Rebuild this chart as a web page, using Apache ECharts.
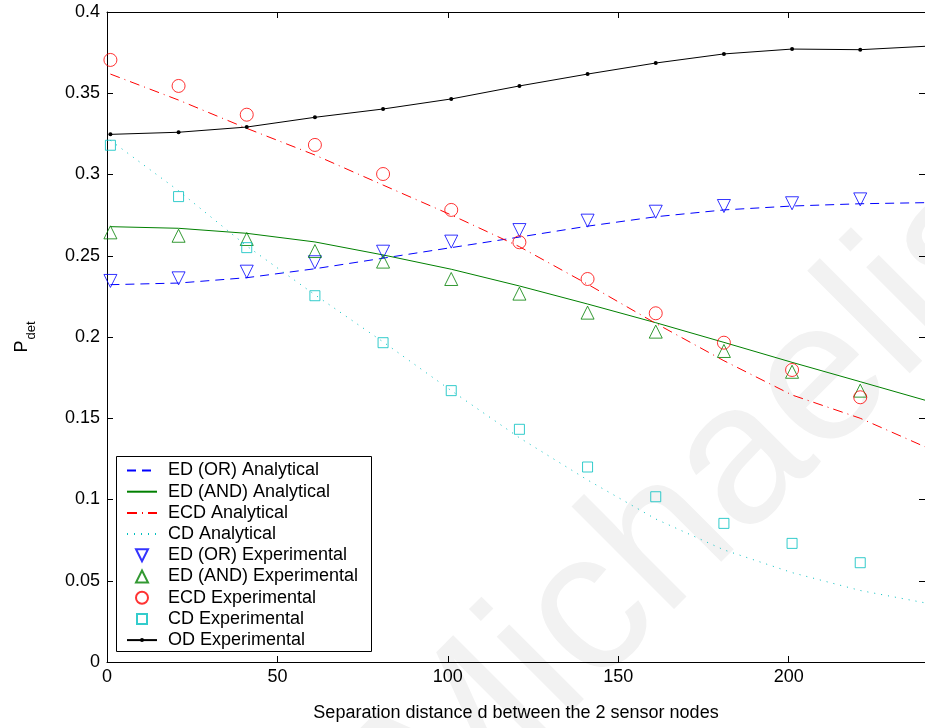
<!DOCTYPE html>
<html>
<head>
<meta charset="utf-8">
<script src="https://cdn.jsdelivr.net/npm/echarts@6/dist/echarts.min.js"></script>
<style>html,body{margin:0;padding:0;background:#fff}#c{width:925px;height:728px}</style>
</head>
<body>
<div id="c"></div>
<script>
// ---- data ----
const xExp = [1, 21, 41, 61, 81, 101, 121, 141, 161, 181, 201, 221];
const xAna = [1, 21, 41, 61, 81, 101, 121, 141, 161, 181, 201, 221, 241];
const xOD  = [1, 21, 41, 61, 81, 101, 121, 141, 161, 181, 201, 221, 241];

const edOrAna  = [0.2322, 0.2332, 0.2365, 0.2420, 0.2485, 0.2550, 0.2615, 0.2682, 0.2740, 0.2782, 0.2806, 0.2820, 0.2827];
const edAndAna = [0.2679, 0.2669, 0.2638, 0.2585, 0.2505, 0.2417, 0.2314, 0.2203, 0.2088, 0.1967, 0.1844, 0.1725, 0.1605];
const ecdAna   = [0.3618, 0.3458, 0.3284, 0.3120, 0.2935, 0.2751, 0.2556, 0.2325, 0.2084, 0.1854, 0.1643, 0.1500, 0.1315];
const cdAna    = [0.3210, 0.2900, 0.2560, 0.2260, 0.1970, 0.1670, 0.1380, 0.1120, 0.0880, 0.0690, 0.0550, 0.0440, 0.0360];

const edOrExp  = [0.2345, 0.2361, 0.2402, 0.2460, 0.2525, 0.2587, 0.2658, 0.2716, 0.2771, 0.2806, 0.2823, 0.2847];
const edAndExp = [0.2644, 0.2623, 0.2603, 0.2529, 0.2464, 0.2357, 0.2267, 0.2150, 0.2033, 0.1914, 0.1786, 0.1670];
const ecdExp   = [0.3705, 0.3545, 0.3368, 0.3182, 0.3003, 0.2782, 0.2583, 0.2357, 0.2146, 0.1965, 0.1797, 0.1629];
const cdExp    = [0.3180, 0.2864, 0.2550, 0.2254, 0.1965, 0.1670, 0.1432, 0.1200, 0.1017, 0.0853, 0.0730, 0.0611];
const odExp    = [0.3247, 0.3260, 0.3292, 0.3352, 0.3403, 0.3465, 0.3545, 0.3618, 0.3686, 0.3742, 0.3772, 0.3768, 0.3790];

const seriesNames = [
  'ED (OR) Analytical', 'ED (AND) Analytical', 'ECD Analytical', 'CD Analytical',
  'ED (OR) Experimental', 'ED (AND) Experimental', 'ECD Experimental', 'CD Experimental', 'OD Experimental'
];
const xTitle = 'Separation distance d between the 2 sensor nodes';
const watermark = 'Michaelis';

const pair = (xs, ys) => ys.map((v, i) => [xs[i], v]);
const FONT = 'Liberation Sans, Arial, Helvetica, sans-serif';
const FS = 18;
const DOWN_TRI = 'path://M0,0L12,0L6,12Z';

const chart = echarts.init(document.getElementById('c'), null, {renderer: 'canvas'});

function anaLine(name, xs, ys, color, dash) {
  return {
    name, type: 'line', data: pair(xs, ys), symbol: 'none', smooth: false,
    lineStyle: {color, width: 1, type: dash}, itemStyle: {color}, z: 3
  };
}
function expMarks(name, xs, ys, color, symbol, size, rot) {
  return {
    name, type: 'scatter', data: pair(xs, ys), symbol, symbolSize: size, symbolRotate: rot || 0,
    itemStyle: {color: 'rgba(255,255,255,0)', borderColor: color, borderWidth: 1}, z: 4
  };
}
const legText = (pad) => ({fontSize: FS, color: '#000', fontFamily: FONT, lineHeight: 18, padding: [0, 0, 0, pad]});
const ROW = 21.2;
const LEG_TOP = 461.5;

const option = {
  animation: false,
  backgroundColor: '#fff',
  textStyle: {fontFamily: FONT},
  graphic: [{
    type: 'text', x: 700, y: 505, z: -1, silent: true,
    rotation: Math.PI / 4,
    style: {text: watermark, fontSize: 200, fontFamily: FONT, fill: '#f2f2f2', align: 'center', verticalAlign: 'middle'}
  }, {
    type: 'rect', z: 50, silent: true,
    shape: {x: 116.5, y: 456.5, width: 255, height: 195},
    style: {fill: '#fff', stroke: '#000', lineWidth: 1}
  }],
  grid: {left: 107, top: 12, width: 821, height: 650, containLabel: false},
  legend: [{
    orient: 'vertical', left: 126, top: LEG_TOP, padding: 0, z: 60,
    itemWidth: 30, itemHeight: 14, itemGap: ROW - 18,
    textStyle: legText(6),
    data: seriesNames.slice(0, 4).map(n => ({name: n, itemStyle: {opacity: 0}}))
  }, {
    orient: 'vertical', left: 135, top: LEG_TOP + 4 * ROW, padding: 0, z: 60,
    itemWidth: 12, itemHeight: 12, itemGap: ROW - 18,
    textStyle: legText(15),
    data: [{name: seriesNames[4], icon: DOWN_TRI}, seriesNames[5], seriesNames[6]]
  }, {
    orient: 'vertical', left: 136, top: LEG_TOP + 7 * ROW, padding: 0, z: 60,
    itemWidth: 10, itemHeight: 10, itemGap: ROW - 18,
    textStyle: legText(16),
    data: [seriesNames[7]]
  }, {
    orient: 'vertical', left: 126, top: LEG_TOP + 8 * ROW, padding: 0, z: 60,
    itemWidth: 30, itemHeight: 5, itemGap: ROW - 18,
    textStyle: legText(6),
    data: [seriesNames[8]]
  }],
  xAxis: [{
    type: 'value', min: 0, max: 240, interval: 50, position: 'bottom',
    name: xTitle, nameLocation: 'middle', nameGap: 42,
    nameTextStyle: {fontSize: FS, color: '#000', fontFamily: FONT},
    axisLine: {show: true, onZero: false, lineStyle: {color: '#000', width: 1}},
    axisTick: {show: true, inside: true, length: 6, lineStyle: {color: '#000'}},
    axisLabel: {fontSize: FS, color: '#000', margin: 6, showMaxLabel: false, fontFamily: FONT},
    splitLine: {show: false}, z: 2
  }, {
    type: 'value', min: 0, max: 240, interval: 50, position: 'top',
    axisLine: {show: true, onZero: false, lineStyle: {color: '#000', width: 1}},
    axisTick: {show: true, inside: true, length: 6, lineStyle: {color: '#000'}},
    axisLabel: {show: false}, splitLine: {show: false}, z: 2
  }],
  yAxis: [{
    type: 'value', min: 0, max: 0.4, interval: 0.05, position: 'left',
    name: 'P{d|det}', nameLocation: 'middle', nameGap: 69, nameRotate: 90,
    nameTextStyle: {fontSize: FS, color: '#000', fontFamily: FONT,
      rich: {d: {fontSize: 13, fontFamily: FONT, color: '#000', padding: [18, 0, 0, 1]}}},
    axisLine: {show: true, onZero: false, lineStyle: {color: '#000', width: 1}},
    axisTick: {show: true, inside: true, length: 6, lineStyle: {color: '#000'}},
    axisLabel: {fontSize: FS, color: '#000', margin: 7, fontFamily: FONT},
    splitLine: {show: false}, z: 2
  }, {
    type: 'value', min: 0, max: 0.4, interval: 0.05, position: 'right',
    axisLine: {show: true, onZero: false, lineStyle: {color: '#000', width: 1}},
    axisTick: {show: true, inside: true, length: 6, lineStyle: {color: '#000'}},
    axisLabel: {show: false}, splitLine: {show: false}, z: 2
  }],
  series: [
    anaLine(seriesNames[0], xAna, edOrAna, '#0000ff', [9, 6]),
    anaLine(seriesNames[1], xAna, edAndAna, '#008000', 'solid'),
    anaLine(seriesNames[2], xAna, ecdAna, '#ff0000', [10, 5, 1, 5]),
    anaLine(seriesNames[3], xAna, cdAna, '#00bfbf', [1, 6]),
    expMarks(seriesNames[4], xExp, edOrExp, '#0000ff', 'triangle', 13, 180),
    expMarks(seriesNames[5], xExp, edAndExp, '#008000', 'triangle', 13, 0),
    expMarks(seriesNames[6], xExp, ecdExp, '#ff0000', 'circle', 13, 0),
    expMarks(seriesNames[7], xExp, cdExp, '#00bfbf', 'rect', 10, 0),
    {
      name: seriesNames[8], type: 'line', data: pair(xOD, odExp), symbol: 'circle', symbolSize: 4,
      showSymbol: true, lineStyle: {color: '#000', width: 1}, itemStyle: {color: '#000'}, z: 5
    }
  ]
};
chart.setOption(option);
</script>
</body>
</html>
